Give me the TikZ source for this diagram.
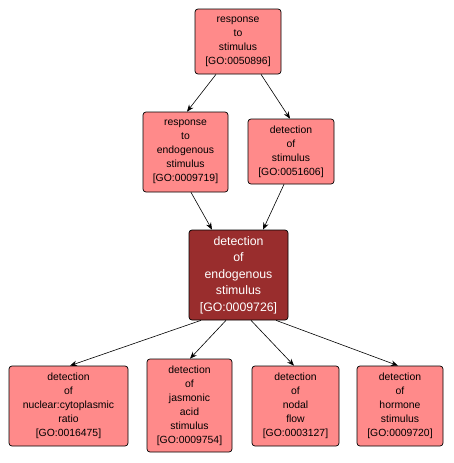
\documentclass[tikz,border=0pt]{standalone}
\usepackage{fontspec}
\setmainfont{Liberation Sans}
\usetikzlibrary{arrows.meta}
\definecolor{lightred}{RGB}{255,138,138}
\definecolor{darkred}{RGB}{153,45,45}
\tikzset{
  term/.style={draw=black, line width=0.7pt, fill=lightred, rounded corners=3pt,
    inner sep=0pt, align=center, font=\fontsize{10.4}{14}\selectfont, text=black},
  focus/.style={term, fill=darkred, text=white, font=\fontsize{12.3}{16.5}\selectfont},
  link/.style={line width=0.6pt, -{Stealth[length=7pt,width=5.5pt]}}
}
\begin{document}
\begin{tikzpicture}[x=1pt,y=-1pt]
\useasboundingbox (0,0) rectangle (454,463);
\node[term, minimum width=86pt, minimum height=65pt] (top) at (238,41.5) {response\\to\\stimulus\\{[GO:0050896]}};
\node[term, minimum width=85pt, minimum height=80pt] (re) at (185.5,152) {response\\to\\endogenous\\stimulus\\{[GO:0009719]}};
\node[term, minimum width=86pt, minimum height=65pt] (ds) at (291,151.5) {detection\\of\\stimulus\\{[GO:0051606]}};
\node[focus, minimum width=99pt, minimum height=90pt] (c) at (238.5,275) {detection\\of\\endogenous\\stimulus\\{[GO:0009726]}};
\node[term, minimum width=119pt, minimum height=80pt] (nuc) at (68.5,406) {detection\\of\\nuclear:cytoplasmic\\ratio\\{[GO:0016475]}};
\node[term, minimum width=85pt, minimum height=93pt] (jas) at (189.5,405.5) {detection\\of\\jasmonic\\acid\\stimulus\\{[GO:0009754]}};
\node[term, minimum width=87pt, minimum height=80pt] (nod) at (295.5,406) {detection\\of\\nodal\\flow\\{[GO:0003127]}};
\node[term, minimum width=86pt, minimum height=80pt] (hor) at (400,406) {detection\\of\\hormone\\stimulus\\{[GO:0009720]}};
\draw[link] ([xshift=-22pt]top.south) -- ([xshift=1.5pt]re.north);
\draw[link] ([xshift=23pt]top.south) -- ([xshift=-1pt]ds.north);
\draw[link] ([xshift=5.5pt]re.south) -- ([xshift=-26.5pt]c.north);
\draw[link] ([xshift=-7pt]ds.south) -- ([xshift=24.5pt]c.north);
\draw[link] ([xshift=-37.5pt]c.south) -- ([xshift=1.5pt]nuc.north);
\draw[link] ([xshift=-12.5pt]c.south) -- ([xshift=0.5pt]jas.north);
\draw[link] ([xshift=12.5pt]c.south) -- ([xshift=-1.5pt]nod.north);
\draw[link] ([xshift=37.5pt]c.south) -- ([xshift=-2pt]hor.north);
\end{tikzpicture}
\end{document}
